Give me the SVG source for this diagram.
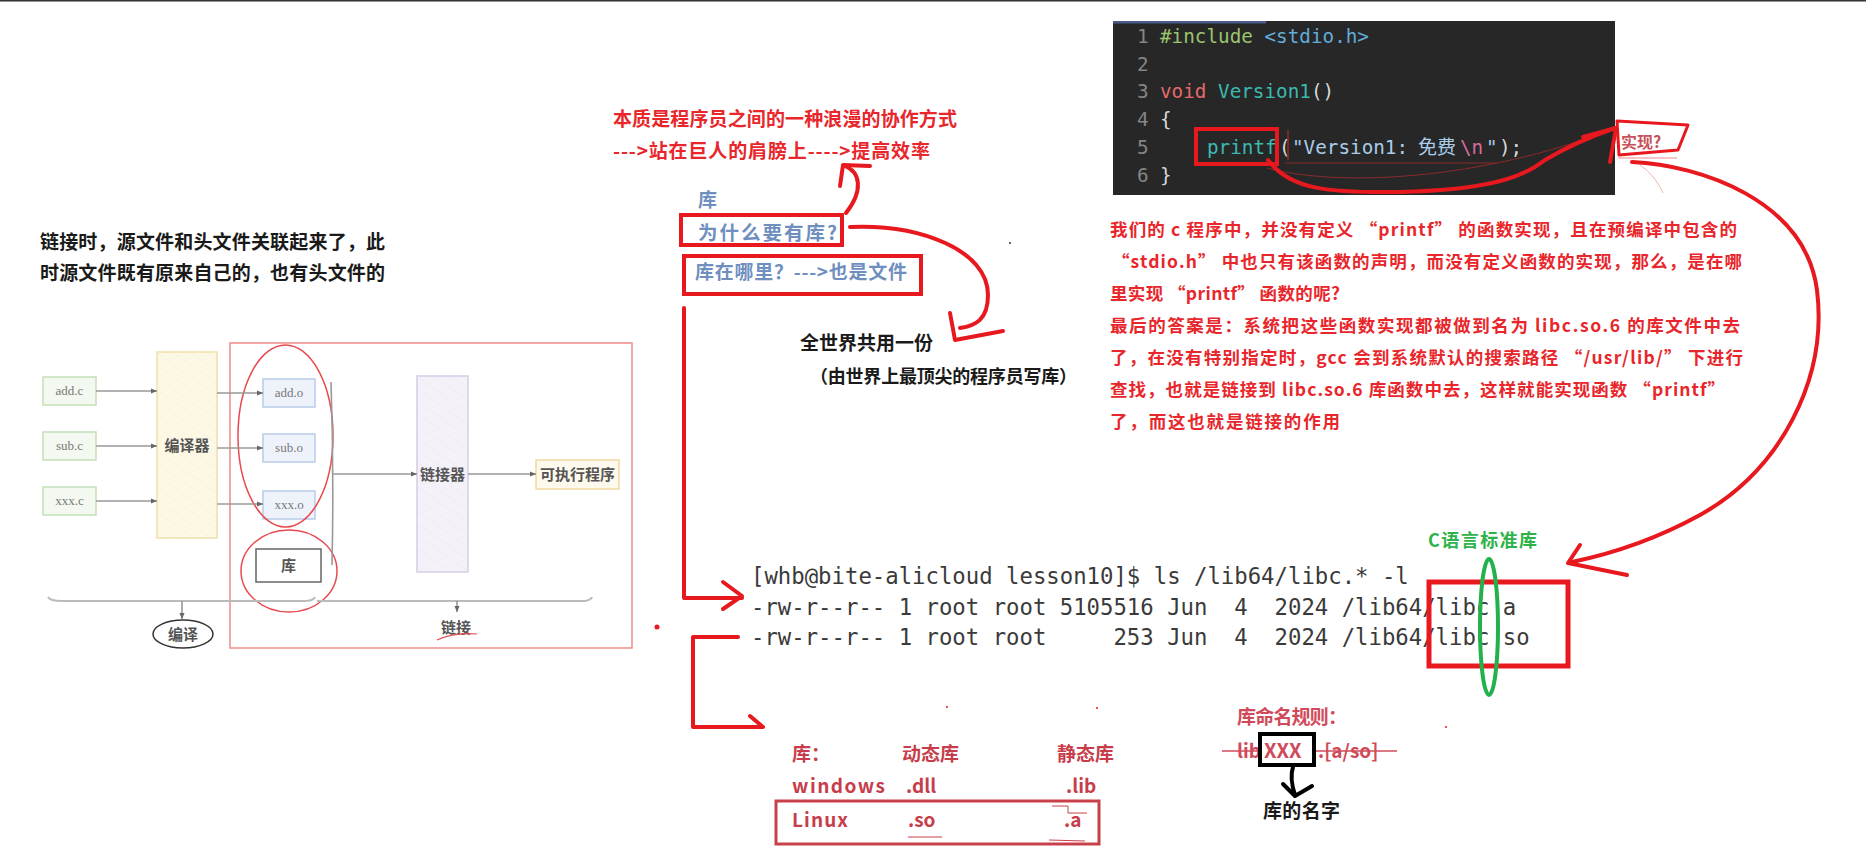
<svg xmlns="http://www.w3.org/2000/svg" width="1866" height="849" viewBox="0 0 1866 849">
<defs>
<style>
.cjk{font-family:"Noto Sans CJK SC","Noto Sans",sans-serif;font-weight:bold}
.red{fill:#e8262b}
.blue{fill:#6f8fbf}
.blk{fill:#1a1a1a}
.tbl{fill:#c73d4b}
.mono{font-family:"DejaVu Sans Mono","Liberation Mono","Noto Sans CJK SC",monospace}
.term{font-size:22.3px;fill:#3a3a3a}
.code{font-size:19.3px}
.ser{font-family:"Liberation Serif","Noto Sans CJK SC",serif;font-size:13px;fill:#777}
.dlab{font-family:"Noto Sans CJK SC",sans-serif;font-size:15px;fill:#555;font-weight:bold}
.hand{fill:none;stroke:#e8181f;stroke-width:4;stroke-linecap:round;stroke-linejoin:round}
.thin{fill:none;stroke:#999;stroke-width:1.6}
</style>
<marker id="ga" viewBox="0 0 8 8" refX="7" refY="4" markerWidth="7" markerHeight="7" orient="auto" markerUnits="userSpaceOnUse">
<path d="M0,1 L7,4 L0,7 z" fill="#666"/>
</marker>
<pattern id="hatch" width="10" height="10" patternUnits="userSpaceOnUse" patternTransform="rotate(-55)">
<line x1="0" y1="0" x2="0" y2="10" stroke="#e6e0ea" stroke-width="1"/>
</pattern>
</defs>
<rect x="0" y="0" width="1866" height="849" fill="#fff"/>
<rect x="0" y="0" width="1866" height="1.5" fill="#333"/>

<!-- left explanatory text -->
<g id="note-left">
<text class="cjk blk" x="40" y="249" font-size="19" textLength="345">链接时，源文件和头文件关联起来了，此</text>
<text class="cjk blk" x="40" y="280" font-size="19" textLength="345">时源文件既有原来自己的，也有头文件的</text>
</g>

<!-- compile/link diagram -->
<g id="diagram">
<rect id="link-frame" x="230" y="343" width="402" height="305" fill="none" stroke="#f08a8a" stroke-width="1.5"/>
<g id="add-c"><rect x="43" y="377" width="53" height="28" fill="#f3f9f0" stroke="#c4e0b8" stroke-width="1.5"/><text class="ser" x="69.5" y="395" text-anchor="middle">add.c</text></g>
<g id="sub-c"><rect x="43" y="432" width="53" height="28" fill="#f3f9f0" stroke="#c4e0b8" stroke-width="1.5"/><text class="ser" x="69.5" y="450" text-anchor="middle">sub.c</text></g>
<g id="xxx-c"><rect x="43" y="487" width="53" height="28" fill="#f3f9f0" stroke="#c4e0b8" stroke-width="1.5"/><text class="ser" x="69.5" y="505" text-anchor="middle">xxx.c</text></g>
<g id="compiler"><rect x="157" y="352" width="60" height="186" fill="#fdf8e4" stroke="#efdfaa" stroke-width="1.5"/><rect x="157" y="352" width="60" height="186" fill="url(#hatch)" opacity="0.5"/><text class="dlab" x="187" y="451" text-anchor="middle">编译器</text></g>
<g id="add-o"><rect x="263" y="379" width="52" height="28" fill="#eef3fb" stroke="#b8cce8" stroke-width="1.5"/><text class="ser" x="289" y="397" text-anchor="middle">add.o</text></g>
<g id="sub-o"><rect x="263" y="434" width="52" height="28" fill="#eef3fb" stroke="#b8cce8" stroke-width="1.5"/><text class="ser" x="289" y="452" text-anchor="middle">sub.o</text></g>
<g id="xxx-o"><rect x="263" y="491" width="52" height="28" fill="#eef3fb" stroke="#b8cce8" stroke-width="1.5"/><text class="ser" x="289" y="509" text-anchor="middle">xxx.o</text></g>
<g id="lib-box"><rect x="256" y="549" width="65" height="33" fill="#fff" stroke="#666" stroke-width="1.5"/><text class="dlab" x="288.5" y="571" text-anchor="middle" font-size="16">库</text></g>
<g id="linker"><rect x="417" y="376" width="51" height="196" fill="#f4f1f8" stroke="#d8cce6" stroke-width="1.5"/><rect x="417" y="376" width="51" height="196" fill="url(#hatch)" opacity="0.6"/><text class="dlab" x="442.5" y="480" text-anchor="middle">链接器</text></g>
<g id="exe"><rect x="536" y="460" width="83" height="29" fill="#fdf9ec" stroke="#efd9a0" stroke-width="1.5"/><text class="dlab" x="577.5" y="480" text-anchor="middle">可执行程序</text></g>
<ellipse id="obj-ring" cx="285.5" cy="436" rx="47.5" ry="91" fill="none" stroke="#e84a50" stroke-width="1.5"/>
<ellipse id="lib-ring" cx="289" cy="571" rx="48" ry="41" fill="none" stroke="#e84a50" stroke-width="1.5"/>
<g id="compile-label"><ellipse cx="183" cy="634" rx="30" ry="14" fill="#fff" stroke="#333" stroke-width="1.5"/><text class="dlab" x="183" y="640" text-anchor="middle" fill="#333">编译</text></g>
<g id="link-label"><text class="dlab" x="456" y="633" text-anchor="middle" fill="#444">链接</text><path d="M437,640 Q455,632 477,634" fill="none" stroke="#e84a50" stroke-width="1.2"/></g>
</g>

<g id="diagram-connectors">
<line class="thin" x1="96" y1="391" x2="157" y2="391" marker-end="url(#ga)"/>
<line class="thin" x1="96" y1="446" x2="157" y2="446" marker-end="url(#ga)"/>
<line class="thin" x1="96" y1="501" x2="157" y2="501" marker-end="url(#ga)"/>
<line class="thin" x1="217" y1="393" x2="263" y2="393" marker-end="url(#ga)"/>
<line class="thin" x1="217" y1="448" x2="263" y2="448" marker-end="url(#ga)"/>
<line class="thin" x1="217" y1="504" x2="263" y2="504" marker-end="url(#ga)"/>
<path class="thin" d="M331,382 Q334,470 332,565" stroke="#aaa"/>
<line class="thin" x1="332" y1="474" x2="417" y2="474" marker-end="url(#ga)"/>
<line class="thin" x1="468" y1="474" x2="536" y2="474" marker-end="url(#ga)"/>
<path d="M48,597 Q50,601 62,601 L305,601 Q313,601 315,597" fill="none" stroke="#bbb" stroke-width="2"/>
<path d="M317,601 L585,601 Q591,600 592,597" fill="none" stroke="#bbb" stroke-width="2"/>
<line class="thin" x1="182" y1="601" x2="182" y2="619" marker-end="url(#ga)"/>
<line class="thin" x1="457" y1="601" x2="457" y2="612" marker-end="url(#ga)"/>
</g>
<circle cx="657" cy="627" r="2.5" fill="#e8181f"/>

<!-- top middle -->
<g id="essence">
<text class="cjk red" x="613" y="126" font-size="19" textLength="344">本质是程序员之间的一种浪漫的协作方式</text>
<text class="cjk red" x="613" y="158" font-size="19" textLength="317">---&gt;站在巨人的肩膀上----&gt;提高效率</text>
</g>
<g id="lib-title"><text class="cjk blue" x="698" y="207" font-size="19">库</text></g>
<g id="why-lib">
<rect x="681" y="215" width="161" height="30" fill="none" stroke="#e8181f" stroke-width="4"/>
<text class="cjk blue" x="698" y="240" font-size="19.5" textLength="139">为什么要有库?</text>
</g>
<g id="where-lib">
<rect x="684" y="256" width="237" height="38" fill="none" stroke="#e8181f" stroke-width="4"/>
<text class="cjk blue" x="695" y="279" font-size="19" textLength="212">库在哪里？---&gt;也是文件</text>
</g>
<g id="shared">
<text class="cjk blk" x="800" y="350" font-size="19" textLength="133">全世界共用一份</text>
<text class="cjk blk" x="810" y="383" font-size="18" textLength="267">（由世界上最顶尖的程序员写库）</text>
</g>
<circle cx="1010" cy="243" r="1" fill="#333"/>

<!-- code block -->
<g id="code">
<rect x="1113" y="21" width="502" height="174" fill="#272727"/>
<rect x="1113" y="21" width="153" height="2.5" fill="#4a5b8c"/>
<g class="mono code" fill="#858585">
<text x="1137" y="43">1</text><text x="1137" y="71">2</text><text x="1137" y="98">3</text><text x="1137" y="126">4</text><text x="1137" y="154">5</text><text x="1137" y="182">6</text>
</g>
<text class="mono code" x="1160" y="43"><tspan fill="#9dc46e">#include</tspan><tspan fill="#62acd9"> &lt;stdio.h&gt;</tspan></text>
<text class="mono code" x="1160" y="98"><tspan fill="#e36a68">void</tspan><tspan fill="#3bbab0"> Version1</tspan><tspan fill="#d8d8d8">()</tspan></text>
<text class="mono code" x="1160" y="126" fill="#d8d8d8">{</text>
<text class="mono code" y="154"><tspan x="1207" fill="#3bbab0">printf</tspan><tspan x="1279" fill="#d8d8d8">(</tspan><tspan x="1292" fill="#a9cde9">"Version1:</tspan><tspan x="1418" fill="#a9cde9" font-family="Noto Sans CJK SC" font-size="19">免费</tspan><tspan x="1460" fill="#d86c9c">\n</tspan><tspan x="1486" fill="#a9cde9">"</tspan><tspan x="1499" fill="#d8d8d8">);</tspan></text>
<text class="mono code" x="1160" y="182" fill="#d8d8d8">}</text>
</g>
<g id="printf-mark">
<rect x="1196" y="129" width="81" height="35" fill="none" stroke="#e8181f" stroke-width="4"/>
<line x1="1288" y1="130" x2="1288" y2="160" stroke="#c03030" stroke-width="1"/>
<path d="M1285,163 L1497,163" fill="none" stroke="#8a2a2a" stroke-width="1"/>
<path d="M1267,168 C1350,190 1500,175 1617,127" fill="none" stroke="#8a2a2a" stroke-width="1"/>
</g>
<g id="impl-q">
<path d="M1617,121 L1688,125 L1678,150 L1619,155 Z" fill="none" stroke="#e8181f" stroke-width="3" stroke-linejoin="round"/>
<text class="cjk" x="1621" y="148" font-size="16" fill="#c8505a">实现?</text>
<line x1="1618" y1="158" x2="1677" y2="158" stroke="#f08a90" stroke-width="1"/>
<path d="M1640,165 Q1655,175 1663,193" fill="none" stroke="#f0a0a0" stroke-width="0.8"/>
</g>

<!-- paragraph -->
<g id="explain" class="cjk red" font-size="17.5">
<text x="1110" y="236" textLength="627">我们的 c 程序中，并没有定义 “printf” 的函数实现，且在预编译中包含的</text>
<text x="1112" y="268" textLength="630">“stdio.h” 中也只有该函数的声明，而没有定义函数的实现，那么，是在哪</text>
<text x="1110" y="300" textLength="230">里实现 “printf” 函数的呢?</text>
<text x="1110" y="332" textLength="630">最后的答案是：系统把这些函数实现都被做到名为 libc.so.6 的库文件中去</text>
<text x="1110" y="364" textLength="633">了，在没有特别指定时，gcc 会到系统默认的搜索路径 “/usr/lib/” 下进行</text>
<text x="1110" y="396" textLength="615">查找，也就是链接到 libc.so.6 库函数中去，这样就能实现函数 “printf”</text>
<text x="1110" y="428" textLength="230">了，而这也就是链接的作用</text>
</g>

<!-- terminal -->
<g id="terminal" class="mono term">
<text x="751" y="584" xml:space="preserve">[whb@bite-alicloud lesson10]$ ls /lib64/libc.* -l</text>
<text x="751" y="615" xml:space="preserve">-rw-r--r-- 1 root root 5105516 Jun  4  2024 /lib64/libc.a</text>
<text x="751" y="645" xml:space="preserve">-rw-r--r-- 1 root root     253 Jun  4  2024 /lib64/libc.so</text>
</g>
<g id="libc-mark">
<rect x="1429" y="582" width="139" height="84" fill="none" stroke="#e8181f" stroke-width="5"/>
<rect x="1491" y="604" width="9" height="12" fill="#fff"/>
<rect x="1491" y="634" width="9" height="12" fill="#fff"/>
<ellipse cx="1489" cy="627" rx="9" ry="68" fill="none" stroke="#22b14c" stroke-width="4"/>
<text class="cjk" x="1428" y="547" font-size="18" fill="#2db34a" textLength="109">C语言标准库</text>
</g>
<circle cx="1446" cy="727" r="1" fill="#e8181f"/>

<!-- library table -->
<g id="lib-table" class="cjk tbl" font-size="19">
<text x="792" y="761">库：</text>
<text x="902" y="761">动态库</text>
<text x="1057" y="761">静态库</text>
<text x="792" y="793" textLength="93">windows</text>
<text x="906" y="793">.dll</text>
<text x="1066" y="793">.lib</text>
<text x="792" y="827" textLength="56">Linux</text>
<text x="908" y="827">.so</text>
<text x="1064" y="827">.a</text>
<rect x="776" y="801" width="323" height="43" fill="none" stroke="#c8404a" stroke-width="3"/>
<line x1="908" y1="837" x2="942" y2="837" stroke="#c8404a" stroke-width="1.2"/>
<path d="M1052,806 L1068,806 L1068,813 L1087,813" fill="none" stroke="#c8404a" stroke-width="1"/>
<line x1="1049" y1="840" x2="1085" y2="841" stroke="#c8404a" stroke-width="1"/>
</g>
<circle cx="947" cy="707" r="1" fill="#e8181f"/>
<circle cx="1097" cy="708" r="1" fill="#e8181f"/>

<!-- naming rule -->
<g id="naming">
<text class="cjk" x="1237" y="724" font-size="19" fill="#d04a5a" textLength="110">库命名规则：</text>
<line x1="1222" y1="751" x2="1397" y2="751" stroke="#d04a5a" stroke-width="1.5"/>
<text class="cjk" x="1237" y="758" font-size="19" fill="#d04a5a">lib</text>
<rect x="1260" y="734" width="54" height="31" fill="#fff" stroke="#000" stroke-width="4"/>
<text class="cjk" x="1264" y="758" font-size="20" fill="#d04a5a">XXX</text>
<text class="cjk" x="1318" y="758" font-size="19" fill="#d04a5a">.[a/so]</text>
<path d="M1293,767 C1290,776 1292,786 1295,795 M1283,784 L1295,796 L1312,786" fill="none" stroke="#000" stroke-width="4" stroke-linecap="round" stroke-linejoin="round"/>
<text class="cjk blk" x="1263" y="818" font-size="19" textLength="77">库的名字</text>
</g>

<!-- hand-drawn red connectors -->
<g id="connectors">
<path class="hand" d="M846,213 C864,190 860,172 845,166"/>
<path class="hand" d="M840,186 L843,165 L870,166"/>
<path class="hand" d="M850,227 C920,224 988,250 988,295 C988,320 975,326 960,328"/>
<path class="hand" d="M950,313 L955,340 L1003,331"/>
<path class="hand" d="M684,308 L684,598 L742,598"/>
<path class="hand" d="M723,582 L742,596 L723,609"/>
<path class="hand" d="M738,637 L693,637 L693,727 L762,727"/>
<path class="hand" d="M750,716 L763,727"/>
<path class="hand" d="M1268,160 C1290,190 1330,193 1400,192 C1480,190 1520,180 1545,160 C1570,145 1595,135 1615,128"/>
<path class="hand" d="M1583,137 L1616,128 L1610,162"/>
<path class="hand" d="M1632,162 C1700,165 1805,200 1817,290 C1828,380 1780,470 1700,515 C1660,537 1620,552 1572,562"/>
<path class="hand" d="M1580,545 L1568,563 L1627,575"/>
</g>
</svg>
